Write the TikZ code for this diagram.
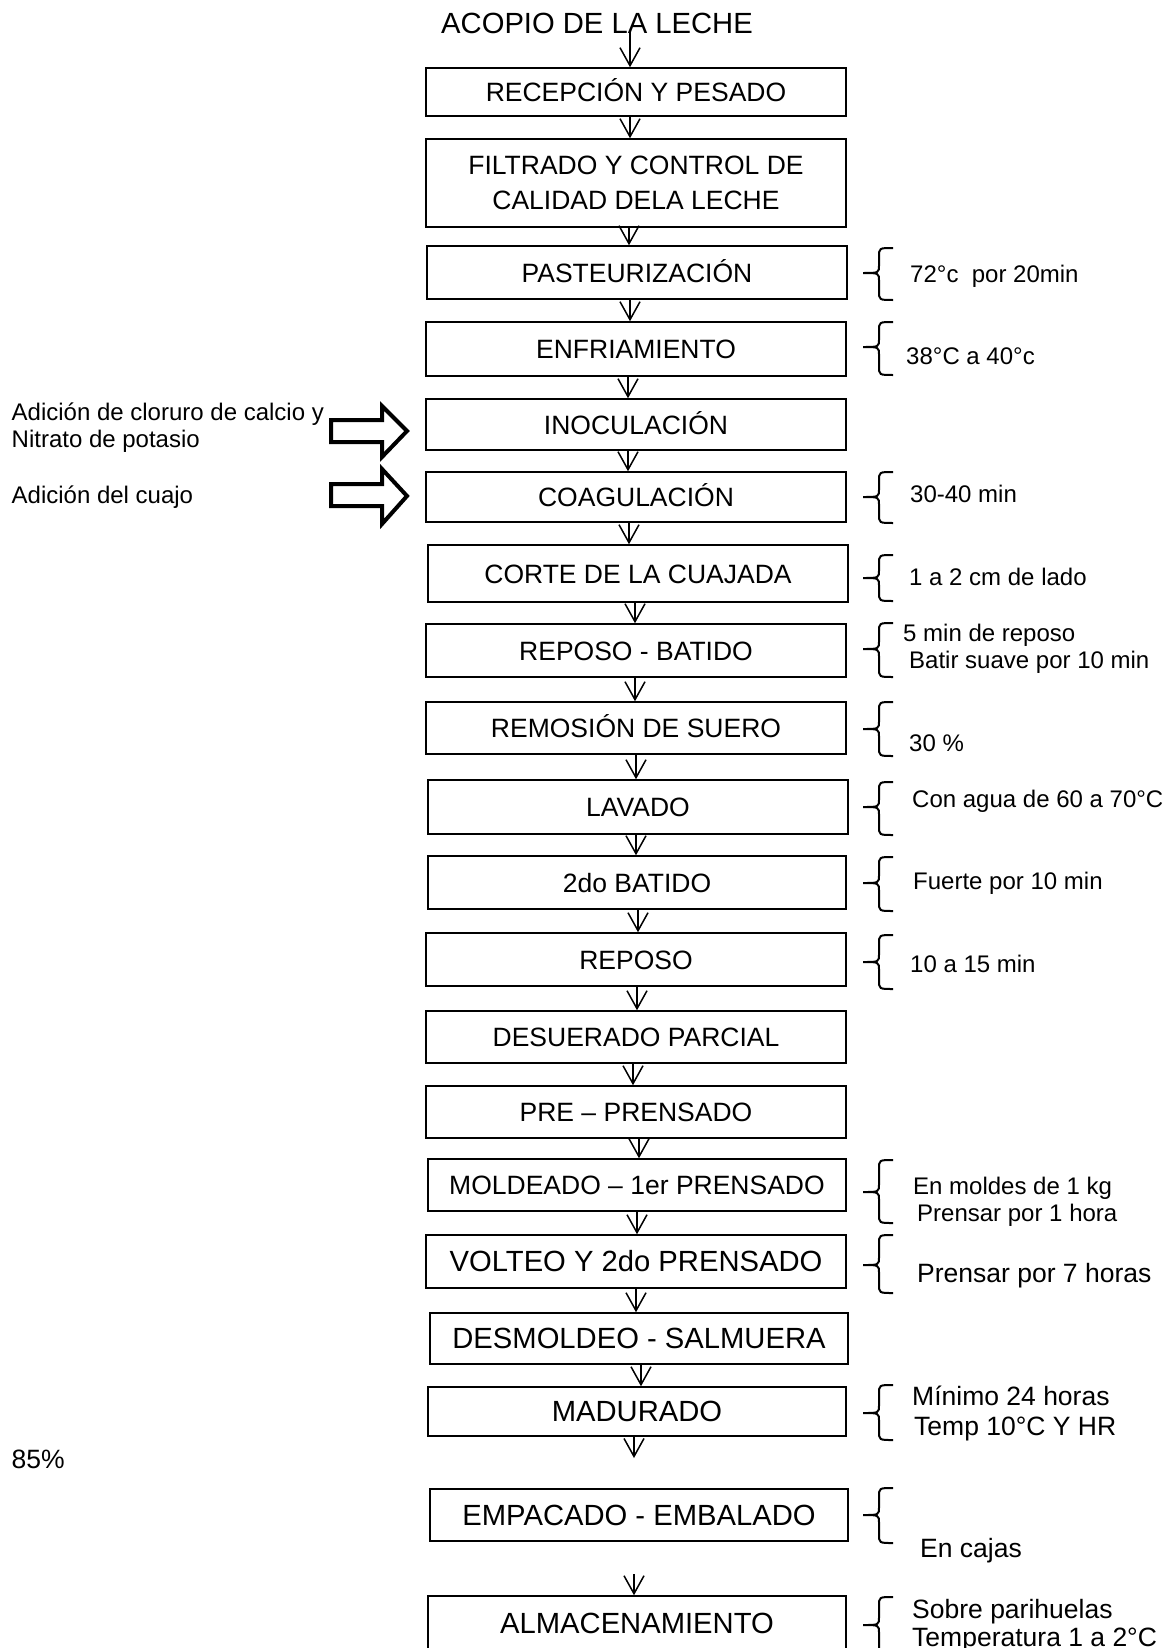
\documentclass[tikz,border=0pt]{standalone}
\usepackage{fontspec}
\setmainfont{Liberation Sans}
\usetikzlibrary{arrows.meta}
\newcommand\fsbox{\fontsize{26.5}{32}\selectfont}
\newcommand\fsbig{\fontsize{29.2}{35}\selectfont}
\newcommand\fsside{\fontsize{24}{29}\selectfont}
\newcommand\fsbside{\fontsize{26.5}{32}\selectfont}
\newcommand\fstwo{\fontsize{26.5}{35}\selectfont}
\newcommand\brc[3]{\draw[bracestyle] (893,#1) .. controls (879,#1) .. (879,#1+9) -- (879,#2-8) .. controls (879,#2) .. (863,#2) .. controls (879,#2) .. (879,#2+8) -- (879,#3-9) .. controls (879,#3) .. (893,#3);}
\tikzset{
  basebox/.style={draw, line width=1.5pt, inner sep=0pt, minimum width=420pt, font=\fsbox},
  box/.style={basebox, text height=19pt, text depth=0pt},
  bigbox/.style={basebox, font=\fsbig, text height=20.9pt, text depth=0pt},
  conn/.style={line width=1.5pt, -{Straight Barb[length=18pt,width=20pt]}},
  lbl/.style={anchor=base west, inner sep=0pt, font=\fsside},
  blbl/.style={anchor=base west, inner sep=0pt, font=\fsbside},
  bracestyle/.style={line width=2pt},
  blockarrow/.style={line width=4pt, line join=miter},
}
\begin{document}
\begin{tikzpicture}[x=1pt,y=-1pt]
\clip (0,0) rectangle (1173,1648);
\fill[white] (0,0) rectangle (1173,1648);

% title
\node[anchor=base, inner sep=0pt, font=\fsbig] (acopio) at (597,33.4) {ACOPIO DE LA LECHE};
\coordinate (a0) at (630,30);

% boxes
\node[box, minimum height=48pt] (b1) at (636,92) {RECEPCIÓN Y PESADO};
\node[basebox, minimum height=88pt, align=center, font=\fstwo] (b2) at (636,183) {FILTRADO Y CONTROL DE\\CALIDAD DELA LECHE};
\node[box, minimum height=53pt] (b3) at (637,272.5) {PASTEURIZACIÓN};
\node[box, minimum height=54pt] (b4) at (636,349) {ENFRIAMIENTO};
\node[box, minimum height=51pt] (b5) at (636,424.5) {INOCULACIÓN};
\node[box, minimum height=50pt] (b6) at (636,497) {COAGULACIÓN};
\node[box, minimum height=57pt] (b7) at (638,573.5) {CORTE DE LA CUAJADA};
\node[box, minimum height=53pt] (b8) at (636,650.5) {REPOSO - BATIDO};
\node[box, minimum height=52pt] (b9) at (636,728) {REMOSIÓN DE SUERO};
\node[box, minimum height=54pt] (b10) at (638,807) {LAVADO};
\node[box, minimum height=53pt, minimum width=418pt] (b11) at (637,882.5) {2do BATIDO};
\node[box, minimum height=53pt] (b12) at (636,959.5) {REPOSO};
\node[box, minimum height=52pt] (b13) at (636,1037) {DESUERADO PARCIAL};
\node[box, minimum height=52pt] (b14) at (636,1112) {PRE – PRENSADO};
\node[box, minimum height=52pt, minimum width=418pt] (b15) at (637,1185) {MOLDEADO – 1er PRENSADO};
\node[bigbox, minimum height=53pt] (b16) at (636,1261.5) {VOLTEO Y 2do PRENSADO};
\node[bigbox, minimum height=51pt, minimum width=418pt] (b17) at (639,1338.5) {DESMOLDEO - SALMUERA};
\node[bigbox, minimum height=49pt, minimum width=418pt] (b18) at (637,1411.5) {MADURADO};
\node[bigbox, minimum height=52pt, minimum width=418pt] (b19) at (639,1515) {EMPACADO - EMBALADO};
\node[bigbox, minimum height=54pt, minimum width=418pt] (b20) at (637,1623) {ALMACENAMIENTO};
\coordinate (c18) at (634,1458);
\coordinate (c19) at (634,1574);

% connectors
\draw[conn] (a0) -- ([xshift=-6pt]b1.north);
\draw[conn] ([xshift=-6pt]b1.south) -- ([xshift=-6pt]b2.north);
\draw[conn] ([xshift=-7pt]b2.south) -- ([xshift=-8pt]b3.north);
\draw[conn] ([xshift=-7pt]b3.south) -- ([xshift=-6pt]b4.north);
\draw[conn] ([xshift=-8pt]b4.south) -- ([xshift=-8pt]b5.north);
\draw[conn] ([xshift=-8pt]b5.south) -- ([xshift=-8pt]b6.north);
\draw[conn] ([xshift=-7pt]b6.south) -- ([xshift=-9pt]b7.north);
\draw[conn] ([xshift=-3pt]b7.south) -- ([xshift=-1pt]b8.north);
\draw[conn] ([xshift=-1pt]b8.south) -- ([xshift=-1pt]b9.north);
\draw[conn] ([xshift=0pt]b9.south) -- ([xshift=-2pt]b10.north);
\draw[conn] ([xshift=-2pt]b10.south) -- ([xshift=-1pt]b11.north);
\draw[conn] ([xshift=1pt]b11.south) -- ([xshift=2pt]b12.north);
\draw[conn] ([xshift=1pt]b12.south) -- ([xshift=1pt]b13.north);
\draw[conn] ([xshift=-3pt]b13.south) -- ([xshift=-3pt]b14.north);
\draw[conn] ([xshift=3pt]b14.south) -- ([xshift=2pt]b15.north);
\draw[conn] ([xshift=0pt]b15.south) -- ([xshift=1pt]b16.north);
\draw[conn] ([xshift=0pt]b16.south) -- ([xshift=-3pt]b17.north);
\draw[conn] ([xshift=2pt]b17.south) -- ([xshift=4pt]b18.north);
\draw[conn] ([xshift=-3pt]b18.south) -- (c18);
\draw[conn] (c19) -- ([xshift=-3pt]b20.north);

% braces
\brc{248}{273}{300}
\brc{322}{347}{375}
\brc{472}{497}{523}
\brc{555}{578}{601}
\brc{623}{649}{677}
\brc{702}{729}{756}
\brc{782}{807}{835}
\brc{857}{883}{911}
\brc{935}{962}{989}
\brc{1160}{1192}{1223}
\brc{1235}{1265}{1293}
\brc{1385}{1413}{1440}
\brc{1488}{1515}{1543}
\brc{1597}{1625}{1690}

% side labels
\node[lbl] (t3) at (910,282.6) {72°c\ \ por 20min};
\node[lbl] (t4) at (906,364.6) {38°C a 40°c};
\node[lbl] (t6) at (910,502.6) {30-40 min};
\node[lbl] (t7) at (909,585.6) {1 a 2 cm de lado};
\node[lbl] (t8a) at (903,641.6) {5 min de reposo};
\node[lbl] (t8b) at (909,668.6) {Batir suave por 10 min};
\node[lbl] (t9) at (909,751.6) {30 \%};
\node[lbl] (t10) at (912,807.6) {Con agua de 60 a 70°C};
\node[lbl] (t11) at (913,889.6) {Fuerte por 10 min};
\node[lbl] (t12) at (910,972.6) {10 a 15 min};
\node[lbl] (t15a) at (913,1194.6) {En moldes de 1 kg};
\node[lbl] (t15b) at (917,1221.6) {Prensar por 1 hora};
\node[blbl] (t16) at (917,1282.5) {Prensar por 7 horas};
\node[blbl] (t18a) at (912,1405.5) {Mínimo 24 horas};
\node[blbl] (t18b) at (914,1435.5) {Temp 10°C Y HR};
\node[blbl] (t85) at (11.5,1468.5) {85\%};
\node[blbl] (t19) at (920,1557.5) {En cajas};
\node[blbl] (t20a) at (912,1618.5) {Sobre parihuelas};
\node[blbl] (t20b) at (912,1646.5) {Temperatura 1 a 2°C};

% left additions
\node[lbl] (l1a) at (11.5,420.6) {Adición de cloruro de calcio y};
\node[lbl] (l1b) at (11.5,447.6) {Nitrato de potasio};
\node[lbl] (l2) at (11.5,503.6) {Adición del cuajo};

% block arrows
\draw[blockarrow] (331,420) -- (382,420) -- (382,406) -- (407,431) -- (382,457) -- (382,442) -- (331,442) -- cycle;
\draw[blockarrow] (331,484) -- (382,484) -- (382,469) -- (407,496) -- (382,524) -- (382,506) -- (331,506) -- cycle;
\end{tikzpicture}
\end{document}
